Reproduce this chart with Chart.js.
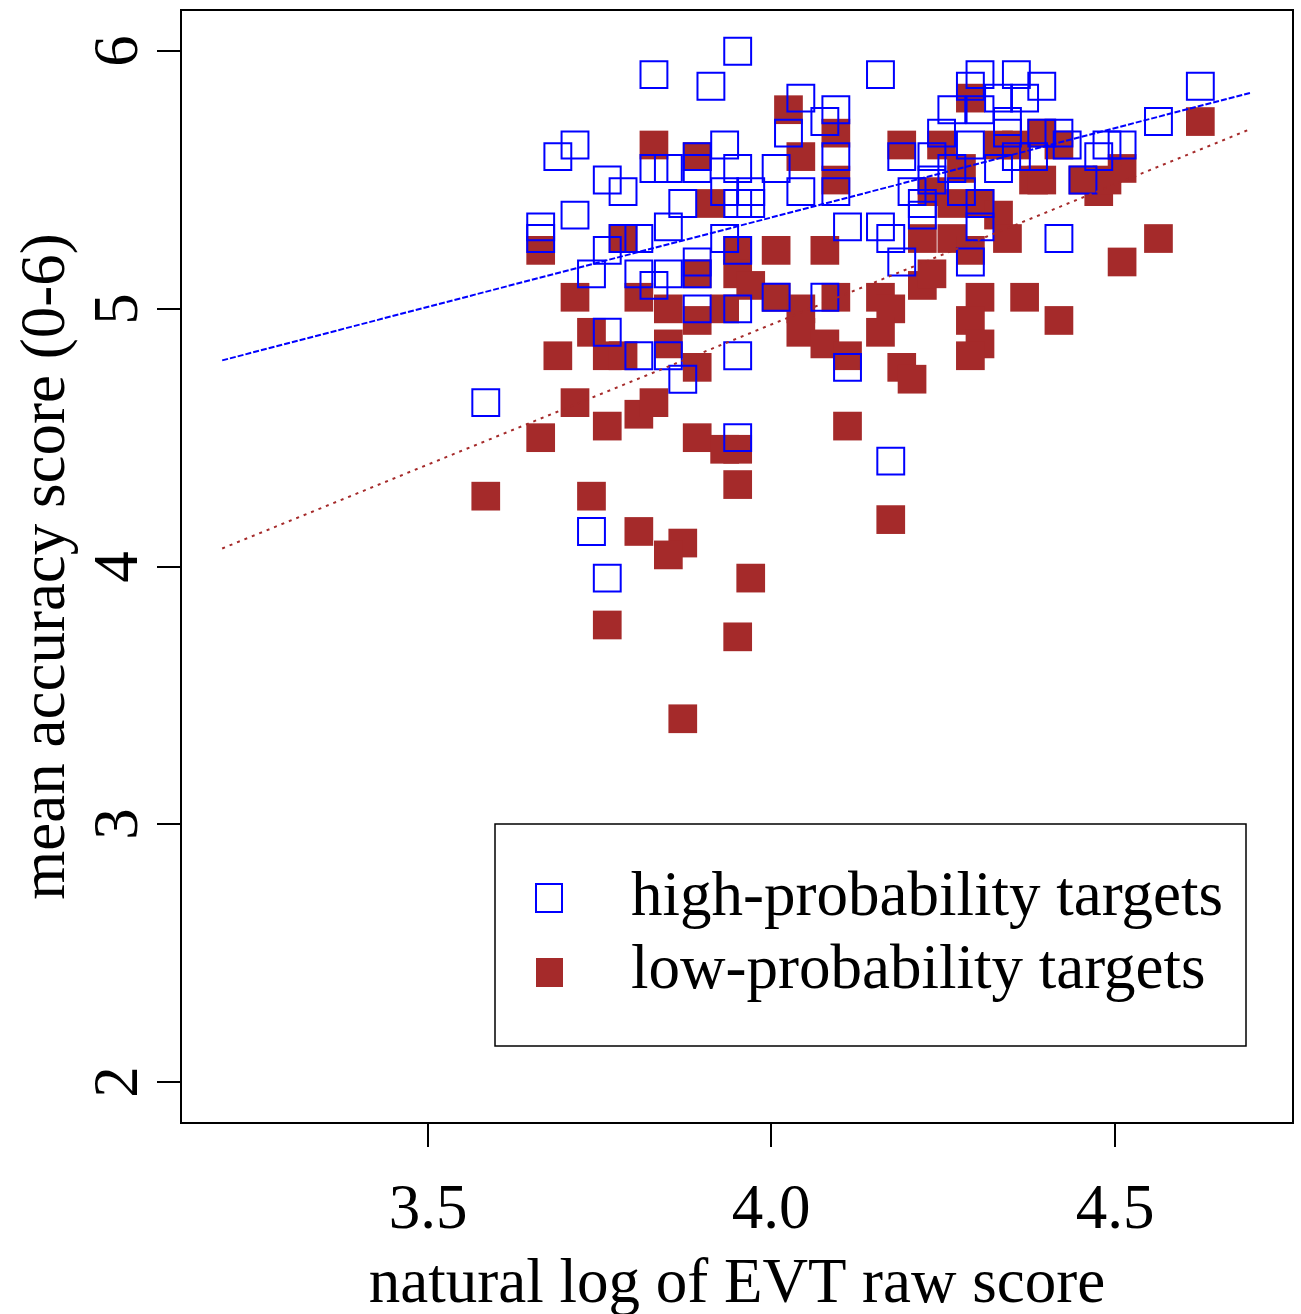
<!DOCTYPE html>
<html>
<head>
<meta charset="utf-8">
<title>Accuracy vs EVT score</title>
<script src="https://cdn.jsdelivr.net/npm/chart.js@4.4.1/dist/chart.umd.min.js"></script>
<style>
  html, body { margin: 0; padding: 0; background: #fff; }
  #plot { display: block; }
</style>
</head>
<body>
<canvas id="plot" width="1301" height="1314"></canvas>
<script>
// ln(EVT raw score) and mean accuracy per target, high-probability targets
const highX = [
  3.951, 3.829, 3.912, 4.159, 4.043, 4.094, 4.078, 3.714, 3.689, 3.829,
  3.850, 3.892, 3.892, 3.761, 3.784, 3.871, 3.714, 3.664, 3.664, 3.850,
  3.784, 3.807, 3.761, 3.932, 3.892, 3.738, 3.807, 3.850, 3.892, 3.932,
  3.951, 4.007, 4.094, 4.025, 4.190, 4.234, 4.248, 4.263, 4.263, 3.932,
  3.970, 3.951, 3.970, 4.043, 4.094, 4.205, 4.234, 4.220, 4.220, 4.277,
  4.111, 4.159, 4.174, 4.190, 3.951, 4.290, 4.304, 4.357, 4.290, 4.394,
  4.369, 4.331, 4.304, 4.344, 4.344, 4.394, 4.419, 4.290, 4.431, 4.489,
  4.511, 4.477, 4.357, 4.382, 4.331, 4.454, 4.304, 4.304, 4.564, 4.625,
  4.419, 3.584, 3.829, 3.892, 3.761, 3.807, 3.850, 3.871, 3.951, 4.007,
  4.078, 3.951, 4.111, 3.951, 4.174, 3.738, 3.761
];
const highY = [
  6.000, 5.909, 5.864, 5.909, 5.818, 5.773, 5.727, 5.636, 5.591, 5.545,
  5.545, 5.591, 5.545, 5.500, 5.455, 5.409, 5.364, 5.318, 5.273, 5.318,
  5.273, 5.273, 5.227, 5.273, 5.182, 5.136, 5.136, 5.136, 5.136, 5.636,
  5.545, 5.545, 5.591, 5.682, 5.591, 5.591, 5.682, 5.773, 5.545, 5.455,
  5.455, 5.409, 5.409, 5.455, 5.455, 5.455, 5.500, 5.409, 5.364, 5.455,
  5.318, 5.318, 5.273, 5.182, 5.227, 5.182, 5.909, 5.909, 5.864, 5.864,
  5.818, 5.818, 5.773, 5.727, 5.682, 5.682, 5.682, 5.636, 5.636, 5.636,
  5.636, 5.591, 5.591, 5.591, 5.545, 5.500, 5.409, 5.318, 5.727, 5.864,
  5.273, 4.636, 5.091, 5.000, 4.909, 4.818, 4.818, 4.727, 5.000, 5.045,
  5.045, 4.818, 4.773, 4.500, 4.409, 4.136, 3.955
];

// low-probability targets
const lowX = [
  3.829, 3.892, 3.912, 3.664, 3.784, 4.025, 4.094, 4.043, 4.094, 4.190,
  4.248, 4.234, 4.290, 3.951, 4.007, 4.078, 4.220, 4.263, 4.331, 4.357,
  4.394, 4.419, 4.382, 4.394, 4.511, 4.477, 4.489, 4.454, 4.304, 4.331,
  4.344, 4.625, 4.564, 4.511, 4.290, 4.304, 4.369, 4.419, 4.290, 4.304,
  4.290, 3.714, 3.807, 3.850, 3.892, 3.892, 3.738, 3.689, 3.761, 3.784,
  3.850, 3.892, 3.714, 3.807, 3.829, 3.761, 3.664, 3.892, 3.932, 3.951,
  3.584, 3.738, 3.807, 3.871, 3.850, 3.761, 3.871, 3.951, 4.174, 3.970,
  3.951, 3.951, 3.970, 3.932, 4.007, 4.043, 4.043, 4.078, 4.094, 4.111,
  4.159, 4.174, 4.159, 4.220, 4.234, 4.190, 4.205, 4.111, 4.277, 4.263
];
const lowY = [
  5.636, 5.591, 5.409, 5.227, 5.273, 5.773, 5.682, 5.591, 5.500, 5.636,
  5.636, 5.455, 5.818, 5.227, 5.227, 5.227, 5.273, 5.273, 5.636, 5.636,
  5.682, 5.636, 5.500, 5.500, 5.545, 5.455, 5.500, 5.500, 5.409, 5.364,
  5.273, 5.727, 5.273, 5.182, 5.227, 5.045, 5.045, 4.955, 4.955, 4.864,
  4.818, 5.045, 5.045, 5.000, 5.136, 4.955, 4.909, 4.818, 4.818, 4.818,
  4.864, 4.773, 4.636, 4.591, 4.636, 4.545, 4.500, 4.500, 4.455, 4.455,
  4.273, 4.273, 4.136, 4.091, 4.045, 3.773, 3.409, 4.318, 4.182, 3.955,
  3.727, 5.136, 5.091, 5.000, 5.045, 5.000, 4.909, 4.864, 5.045, 4.818,
  5.045, 5.000, 4.909, 5.091, 5.136, 4.773, 4.727, 4.545, 5.545, 5.409
];

// fitted lines, end points at the limits of the x range
const highFitX = [3.2, 4.7];
const highFitY = [4.80, 5.84];
const lowFitX = [3.2, 4.7];
const lowFitY = [4.07, 5.70];

const xTicks = [3.5, 4.0, 4.5];
const yTicks = [2, 3, 4, 5, 6];
const xTitle = 'natural log of EVT raw score';
const yTitle = 'mean accuracy score (0-6)';
const seriesNames = ['high-probability targets', 'low-probability targets'];

const BLUE = '#0000FF';
const BROWN = '#A52A2A';
const FONT = '"Liberation Serif", "Times New Roman", serif';

const toPoints = (xs, ys) => xs.map((x, i) => ({ x, y: ys[i] }));

// R-like box, ticks, labels and legend
const basePlot = {
  id: 'basePlot',
  afterDraw(chart) {
    const { ctx, chartArea: area, scales } = chart;
    const xs = scales.x;
    const ys = scales.y;
    const tick = 24;

    ctx.save();
    ctx.strokeStyle = '#000';
    ctx.fillStyle = '#000';
    ctx.lineWidth = 2;
    ctx.strokeRect(area.left, area.top, area.right - area.left, area.bottom - area.top);

    ctx.font = `63px ${FONT}`;
    ctx.textAlign = 'center';
    ctx.textBaseline = 'alphabetic';

    xTicks.forEach((v) => {
      const px = Math.round(xs.getPixelForValue(v));
      ctx.beginPath();
      ctx.moveTo(px, area.bottom);
      ctx.lineTo(px, area.bottom + tick);
      ctx.stroke();
      ctx.fillText(v.toFixed(1), px, 1228);
    });

    yTicks.forEach((v) => {
      const py = Math.round(ys.getPixelForValue(v));
      ctx.beginPath();
      ctx.moveTo(area.left, py);
      ctx.lineTo(area.left - tick, py);
      ctx.stroke();
      ctx.save();
      ctx.translate(137, py);
      ctx.rotate(-Math.PI / 2);
      ctx.fillText(String(v), 0, 0);
      ctx.restore();
    });

    ctx.fillText(xTitle, (area.left + area.right) / 2, 1302);
    ctx.save();
    ctx.translate(64, (area.top + area.bottom) / 2);
    ctx.rotate(-Math.PI / 2);
    ctx.fillText(yTitle, 0, 0);
    ctx.restore();

    // legend
    ctx.lineWidth = 1.5;
    ctx.strokeRect(495, 824, 751, 222);
    ctx.textAlign = 'left';
    ctx.fillText(seriesNames[0], 631, 915);
    ctx.fillText(seriesNames[1], 631, 988);
    ctx.lineWidth = 2;
    ctx.strokeStyle = BLUE;
    ctx.strokeRect(536, 884, 26, 28);
    ctx.fillStyle = BROWN;
    ctx.fillRect(536, 958, 27, 29);
    ctx.restore();
  }
};

new Chart(document.getElementById('plot'), {
  type: 'scatter',
  data: {
    datasets: [
      {
        label: 'high fit',
        data: toPoints(highFitX, highFitY),
        showLine: true,
        borderColor: BLUE,
        borderWidth: 2,
        borderDash: [6, 2],
        pointRadius: 0
      },
      {
        label: 'low fit',
        data: toPoints(lowFitX, lowFitY),
        showLine: true,
        borderColor: BROWN,
        borderWidth: 2,
        borderDash: [3, 5],
        pointRadius: 0
      },
      {
        label: seriesNames[0],
        data: toPoints(highX, highY),
        pointStyle: 'rect',
        pointRadius: 19,
        borderWidth: 2,
        borderColor: BLUE,
        backgroundColor: 'rgba(0,0,0,0)'
      },
      {
        label: seriesNames[1],
        data: toPoints(lowX, lowY),
        pointStyle: 'rect',
        pointRadius: 20.3,
        borderWidth: 0,
        backgroundColor: BROWN
      }
    ]
  },
  options: {
    responsive: false,
    animation: false,
    events: [],
    layout: {
      autoPadding: false,
      padding: { left: 181, right: 8, top: 10, bottom: 191 }
    },
    plugins: {
      legend: { display: false },
      tooltip: { enabled: false }
    },
    scales: {
      x: { type: 'linear', display: false, min: 3.14, max: 4.76 },
      y: { type: 'linear', display: false, min: 1.84, max: 6.16 }
    }
  },
  plugins: [basePlot]
});
</script>
</body>
</html>
